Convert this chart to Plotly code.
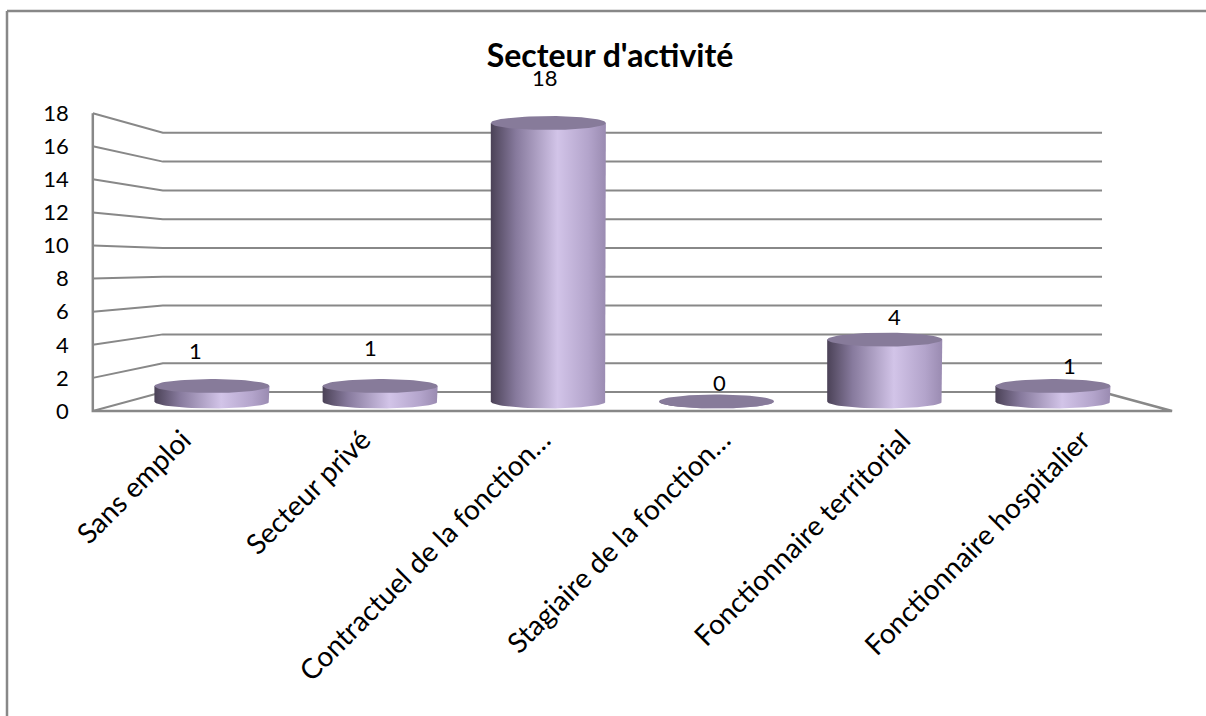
import numpy as np
import plotly.graph_objects as go

# ---- data -------------------------------------------------------------
categories = [
    "Sans emploi",
    "Secteur privé",
    "Contractuel de la fonction…",
    "Stagiaire de la fonction…",
    "Fonctionnaire territorial",
    "Fonctionnaire hospitalier",
]
counts = [1, 1, 18, 0, 4, 1]
y_ticks = list(range(0, 19, 2))

# ---- style ------------------------------------------------------------
FONT = "Lato, 'Open Sans', sans-serif"
GRID = "#888888"
CAP = "#877b9a"
BODY_SCALE = [
    [0.00, "#4b4257"],
    [0.22, "#877a9d"],
    [0.58, "#d2c4e8"],
    [0.85, "#b3a4cb"],
    [1.00, "#9a8bb1"],
]
label_lift = [2.5, 2.7, 2.5, 1.55, 1.6, 1.6]

# Stage coordinates: category i sits at x = i, a value v at y = v, on the
# plane through the middle of the cylinders. Front and back planes are the
# same plane scaled about a vanishing point.
VP = (2.5, 8.85)
FRONT = 1.0694
BACK = 0.9306
LABEL_DEPTH = 1.04
HALF_W = 0.342      # cylinder radius, in category units
RY = 0.45           # ellipse half-height, in value units
X_RANGE = [-1.260, 5.910]
Y_RANGE = [-20.33, 25.95]
LEFT, RIGHT = -0.5, len(categories) - 0.5


def project(x, y, s):
    return VP[0] + s * (x - VP[0]), VP[1] + s * (y - VP[1])


def paper_x(x):
    return (x - X_RANGE[0]) / (X_RANGE[1] - X_RANGE[0])


def paper_y(y):
    return (y - Y_RANGE[0]) / (Y_RANGE[1] - Y_RANGE[0])


fig = go.Figure()

# ---- walls: gridlines bent from the side wall onto the back wall ------
gx, gy = [], []
for v in y_ticks:
    for px, s in [(LEFT, FRONT), (LEFT, BACK), (RIGHT, BACK)]:
        x, y = project(px, v, s)
        gx.append(x)
        gy.append(y)
    gx.append(None)
    gy.append(None)
fig.add_trace(go.Scatter(x=gx, y=gy, mode="lines",
                         line=dict(color=GRID, width=2),
                         hoverinfo="skip", showlegend=False))

# floor front edge, right edge and wall front edge
fx, fy = [], []
for px, v, s in [(LEFT, max(y_ticks), FRONT), (LEFT, 0, FRONT),
                 (RIGHT, 0, FRONT), (RIGHT, 0, BACK)]:
    x, y = project(px, v, s)
    fx.append(x)
    fy.append(y)
fig.add_trace(go.Scatter(x=fx, y=fy, mode="lines",
                         line=dict(color=GRID, width=2.5),
                         hoverinfo="skip", showlegend=False))

# ---- cylinders --------------------------------------------------------
t_front = np.linspace(0, -np.pi, 40)
t_full = np.linspace(0, 2 * np.pi, 80)
for i, v in enumerate(counts):
    bx = [i - HALF_W, i - HALF_W, i + HALF_W, i + HALF_W]
    by = [0, v, v, 0]
    bx += list(i + HALF_W * np.cos(t_front))
    by += list(RY * np.sin(t_front))
    fig.add_trace(go.Scatter(
        x=bx, y=by, mode="lines", fill="toself",
        line=dict(width=0),
        fillgradient=dict(type="horizontal", colorscale=BODY_SCALE),
        hoverinfo="skip", showlegend=False))
    fig.add_trace(go.Scatter(
        x=i + HALF_W * np.cos(t_full), y=v + RY * np.sin(t_full),
        mode="lines", fill="toself", fillcolor=CAP,
        line=dict(width=0), hoverinfo="skip", showlegend=False))

# ---- value labels -----------------------------------------------------
for i, v in enumerate(counts):
    lx, ly = project(i, v + label_lift[i], LABEL_DEPTH)
    fig.add_annotation(x=lx, y=ly, text=str(v), showarrow=False,
                       font=dict(family=FONT, size=22, color="#000000"))

# ---- axes -------------------------------------------------------------
x_tick_pos = [project(i, 0, FRONT)[0] for i in range(len(categories))]
floor_front_y = project(LEFT, 0, FRONT)[1]
y_tick_pos = [project(LEFT, v, FRONT)[1] for v in y_ticks]
wall_front_x = project(LEFT, 0, FRONT)[0]

fig.update_xaxes(
    range=X_RANGE, domain=[0, 1], showgrid=False, zeroline=False,
    showline=False, ticks="", tickvals=x_tick_pos, ticktext=categories,
    tickangle=-45, anchor="free", position=paper_y(floor_front_y),
    ticklabelstandoff=6, automargin=False,
    tickfont=dict(family=FONT, size=28, color="#000000"))
fig.update_yaxes(
    range=Y_RANGE, domain=[0, 1], showgrid=False, zeroline=False,
    showline=False, ticks="", tickvals=y_tick_pos,
    ticktext=[str(v) for v in y_ticks], anchor="free",
    position=paper_x(wall_front_x), ticklabelstandoff=24,
    automargin=False,
    tickfont=dict(family=FONT, size=22, color="#000000"))

# ---- chart frame & title ---------------------------------------------
fig.add_shape(type="line", xref="paper", yref="paper",
              x0=7 / 1206, x1=7 / 1206, y0=-0.01, y1=1 - 11 / 716,
              line=dict(color=GRID, width=2.5))
fig.add_shape(type="line", xref="paper", yref="paper",
              x0=7 / 1206, x1=1.01, y0=1 - 11 / 716, y1=1 - 11 / 716,
              line=dict(color=GRID, width=2.5))

fig.update_layout(
    width=1206, height=716, autosize=False,
    margin=dict(l=0, r=0, t=0, b=0),
    paper_bgcolor="#ffffff", plot_bgcolor="#ffffff",
    title=dict(text="<b>Secteur d'activité</b>", x=610 / 1206,
               xanchor="center", y=1 - 56 / 716, yanchor="middle",
               font=dict(family=FONT, size=32, color="#000000")),
    showlegend=False,
)

fig.write_html("out.html")
